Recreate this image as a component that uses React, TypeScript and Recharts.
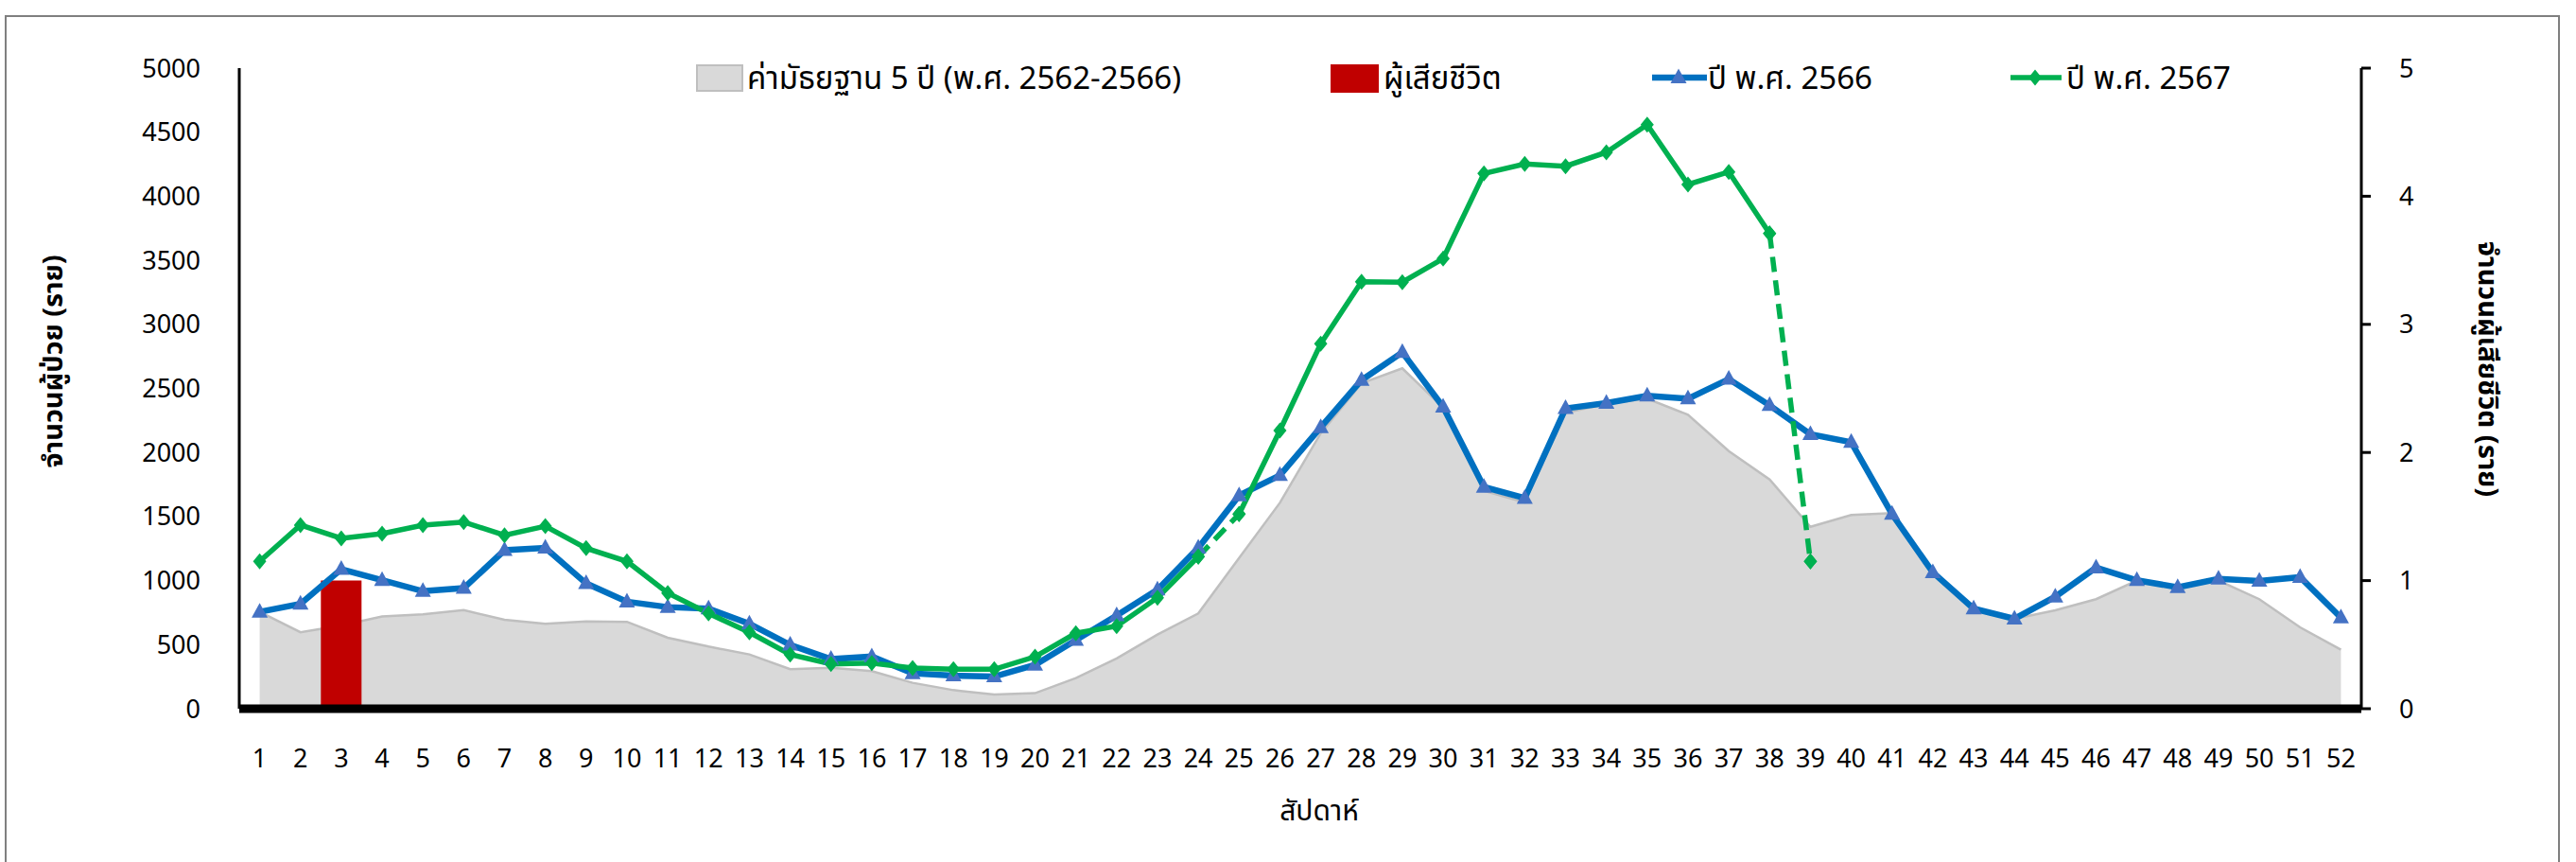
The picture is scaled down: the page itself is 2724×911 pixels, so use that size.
import React from 'react';
import { ComposedChart, Area, Bar, Line, XAxis, YAxis } from 'recharts';

// ---------- data ----------
const weeks = [
  '1', '2', '3', '4', '5', '6', '7', '8', '9', '10', '11', '12', '13', '14', '15', '16', '17', '18', '19', '20',
  '21', '22', '23', '24', '25', '26', '27', '28', '29', '30', '31', '32', '33', '34', '35', '36', '37', '38', '39', '40',
  '41', '42', '43', '44', '45', '46', '47', '48', '49', '50', '51', '52',
];

// median of 5 years (2562-2566)
const median5y = [
  756, 597, 650, 720, 737, 769, 695, 663, 682, 678,
  554, 485, 424, 308, 320, 293, 202, 145, 111, 121,
  239, 392, 579, 744, 1176, 1607, 2150, 2540, 2657, 2350,
  1700, 1610, 2310, 2380, 2420, 2295, 2011, 1790, 1420, 1512,
  1527, 1050, 780, 702, 768, 855, 1000, 955, 1000, 855,
  635, 460,
];

// year 2566
const cases2566 = [
  756, 818, 1089, 1003, 917, 941, 1237, 1255, 978, 835,
  793, 781, 663, 498, 387, 407, 276, 259, 251, 342,
  535, 727, 929, 1255, 1664, 1822, 2196, 2565, 2782, 2356,
  1730, 1644, 2344, 2386, 2442, 2420, 2573, 2368, 2142, 2080,
  1519, 1064, 781, 702, 874, 1101, 1002, 948, 1014, 997,
  1027, 711,
];

// year 2567 (weeks 1-39)
const cases2567 = [
  1150, 1433, 1330, 1366, 1433, 1457, 1354, 1425, 1253, 1150,
  903, 744, 596, 423, 349, 357, 318, 308, 308, 406,
  589, 645, 866, 1187, 1519, 2171, 2849, 3333, 3329, 3513,
  4178, 4252, 4234, 4343, 4559, 4092, 4190, 3710, 1150,
];

// weeks where the 2567 segment towards the next week is dashed
const dashedFromWeeks = [24, 38];

// deaths per week
const deaths = [
  0, 0, 1, 0, 0, 0, 0, 0, 0, 0,
  0, 0, 0, 0, 0, 0, 0, 0, 0, 0,
  0, 0, 0, 0, 0, 0, 0, 0, 0, 0,
  0, 0, 0, 0, 0, 0, 0, 0, 0, 0,
  0, 0, 0, 0, 0, 0, 0, 0, 0, 0,
  0, 0,
];

const leftTicks = [0, 500, 1000, 1500, 2000, 2500, 3000, 3500, 4000, 4500, 5000];
const rightTicks = [0, 1, 2, 3, 4, 5];

const legendMedian = 'ค่ามัธยฐาน 5 ปี (พ.ศ. 2562-2566)';
const legendDeaths = 'ผู้เสียชีวิต';
const legend2566 = 'ปี พ.ศ. 2566';
const legend2567 = 'ปี พ.ศ. 2567';
const leftTitle = 'จำนวนผู้ป่วย (ราย)';
const rightTitle = 'จำนวนผู้เสียชีวิต (ราย)';
const xTitle = 'สัปดาห์';

// ---------- table ----------
const pieceCount = dashedFromWeeks.length + 1;
const data = weeks.map((w, i) => {
  const wk = i + 1;
  const row: any = { week: w, median: median5y[i], y2566: cases2566[i], deaths: deaths[i] };
  const v = i < cases2567.length ? cases2567[i] : null;
  const piece = dashedFromWeeks.filter((d) => d < wk).length;
  for (let p = 0; p < pieceCount; p++) row['s' + p] = p === piece ? v : null;
  row.dash = dashedFromWeeks.includes(wk) || dashedFromWeeks.includes(wk - 1) ? v : null;
  return row;
});

// ---------- styling ----------
const FONT = '"Noto Sans", "Noto Sans Thai", Tahoma, "DejaVu Sans", sans-serif';
const BLUE = '#0070C0';
const BLUE_MARK = '#4472C4';
const GREEN = '#00B050';
const RED = '#C00000';
const GRAY_FILL = '#D9D9D9';
const GRAY_LINE = '#BFBFBF';

const Triangle = (props: any) => {
  const { cx, cy, index } = props;
  if (cx == null || cy == null || props.value == null) return <g key={'t' + index} />;
  return (
    <polygon
      key={'t' + index}
      points={`${cx},${cy - 9.5} ${cx + 8.5},${cy + 6} ${cx - 8.5},${cy + 6}`}
      fill={BLUE_MARK}
    />
  );
};

const Diamond = (props: any) => {
  const { cx, cy, index } = props;
  if (cx == null || cy == null || props.value == null) return <g key={'d' + index} />;
  return (
    <polygon
      key={'d' + index}
      points={`${cx},${cy - 8.5} ${cx + 7},${cy} ${cx},${cy + 8.5} ${cx - 7},${cy}`}
      fill={GREEN}
    />
  );
};

const legendText: React.CSSProperties = {
  position: 'absolute',
  top: 60,
  height: 44,
  lineHeight: '44px',
  fontSize: 33,
  color: '#000',
  whiteSpace: 'nowrap',
  fontFamily: FONT,
};

export default function App() {
  return (
    <div
      style={{
        position: 'absolute',
        left: 0,
        top: 0,
        width: 2724,
        height: 911,
        overflow: 'hidden',
        background: '#fff',
        fontFamily: FONT,
      }}
    >
      <div
        style={{
          position: 'absolute',
          left: 5,
          top: 16,
          width: 2702,
          height: 1000,
          border: '2px solid #7F7F7F',
          boxSizing: 'border-box',
        }}
      />
      <div style={{ position: 'absolute', left: 0, top: 0 }}>
        <ComposedChart
          width={2724}
          height={911}
          data={data}
          margin={{ top: 72, right: 127, bottom: 102, left: 153 }}
          barCategoryGap={0}
        >
          <XAxis
            dataKey="week"
            interval={0}
            axisLine={{ stroke: '#000', strokeWidth: 9 }}
            tickLine={false}
            tickSize={0}
            tickMargin={43}
            height={60}
            tick={{ fill: '#000', fontSize: 27, fontFamily: FONT }}
          />
          <YAxis
            yAxisId="l"
            orientation="left"
            domain={[0, 5000]}
            ticks={leftTicks}
            interval={0}
            width={100}
            axisLine={{ stroke: '#000', strokeWidth: 3 }}
            tickLine={false}
            tickSize={0}
            tickMargin={41}
            tick={{ fill: '#000', fontSize: 27, fontFamily: FONT }}
          />
          <YAxis
            yAxisId="r"
            orientation="right"
            domain={[0, 5]}
            ticks={rightTicks}
            interval={0}
            width={100}
            axisLine={{ stroke: '#000', strokeWidth: 3 }}
            tickLine={{ stroke: '#000', strokeWidth: 3 }}
            tickSize={10}
            tickMargin={30}
            tick={{ fill: '#000', fontSize: 27, fontFamily: FONT }}
          />
          <Area
            yAxisId="l"
            type="linear"
            dataKey="median"
            fill={GRAY_FILL}
            fillOpacity={1}
            stroke={GRAY_LINE}
            strokeWidth={2.5}
            dot={false}
            activeDot={false}
            isAnimationActive={false}
          />
          <Bar yAxisId="r" dataKey="deaths" fill={RED} isAnimationActive={false} />
          <Line
            yAxisId="l"
            type="linear"
            dataKey="y2566"
            stroke={BLUE}
            strokeWidth={6.5}
            dot={Triangle}
            activeDot={false}
            isAnimationActive={false}
          />
          {Array.from({ length: pieceCount }).map((_, p) => (
            <Line
              key={'s' + p}
              yAxisId="l"
              type="linear"
              dataKey={'s' + p}
              stroke={GREEN}
              strokeWidth={5.5}
              dot={Diamond}
              activeDot={false}
              connectNulls={false}
              isAnimationActive={false}
            />
          ))}
          <Line
            yAxisId="l"
            type="linear"
            dataKey="dash"
            stroke={GREEN}
            strokeWidth={5.5}
            strokeDasharray="16 9"
            dot={Diamond}
            activeDot={false}
            connectNulls={false}
            isAnimationActive={false}
          />
        </ComposedChart>
      </div>

      {/* legend */}
      <div
        style={{
          position: 'absolute',
          left: 736,
          top: 68,
          width: 50,
          height: 29,
          background: GRAY_FILL,
          border: '2px solid ' + GRAY_LINE,
          boxSizing: 'border-box',
        }}
      />
      <div style={{ ...legendText, left: 790 }}>{legendMedian}</div>
      <div
        style={{ position: 'absolute', left: 1407, top: 68, width: 51, height: 30, background: RED }}
      />
      <div style={{ ...legendText, left: 1463 }}>{legendDeaths}</div>
      <svg style={{ position: 'absolute', left: 1747, top: 66, overflow: 'visible' }} width={58} height={32}>
        <line x1={0} y1={16} x2={58} y2={16} stroke={BLUE} strokeWidth={6.5} />
        <polygon points="28,6.5 36.5,22 19.5,22" fill={BLUE_MARK} />
      </svg>
      <div style={{ ...legendText, left: 1806 }}>{legend2566}</div>
      <svg style={{ position: 'absolute', left: 2126, top: 66, overflow: 'visible' }} width={54} height={32}>
        <line x1={0} y1={16} x2={54} y2={16} stroke={GREEN} strokeWidth={5.5} />
        <polygon points="26,7.5 33,16 26,24.5 19,16" fill={GREEN} />
      </svg>
      <div style={{ ...legendText, left: 2185 }}>{legend2567}</div>

      {/* axis titles */}
      <div
        style={{
          position: 'absolute',
          left: 57,
          top: 382,
          transform: 'translate(-50%, -50%) rotate(-90deg)',
          whiteSpace: 'nowrap',
          fontSize: 29,
          fontWeight: 'bold',
          color: '#000',
        }}
      >
        {leftTitle}
      </div>
      <div
        style={{
          position: 'absolute',
          left: 2630,
          top: 390,
          transform: 'translate(-50%, -50%) rotate(90deg)',
          whiteSpace: 'nowrap',
          fontSize: 29,
          fontWeight: 'bold',
          color: '#000',
        }}
      >
        {rightTitle}
      </div>
      <div
        style={{
          position: 'absolute',
          left: 1395,
          top: 858,
          transform: 'translate(-50%, -50%)',
          whiteSpace: 'nowrap',
          fontSize: 30,
          color: '#000',
        }}
      >
        {xTitle}
      </div>
    </div>
  );
}
